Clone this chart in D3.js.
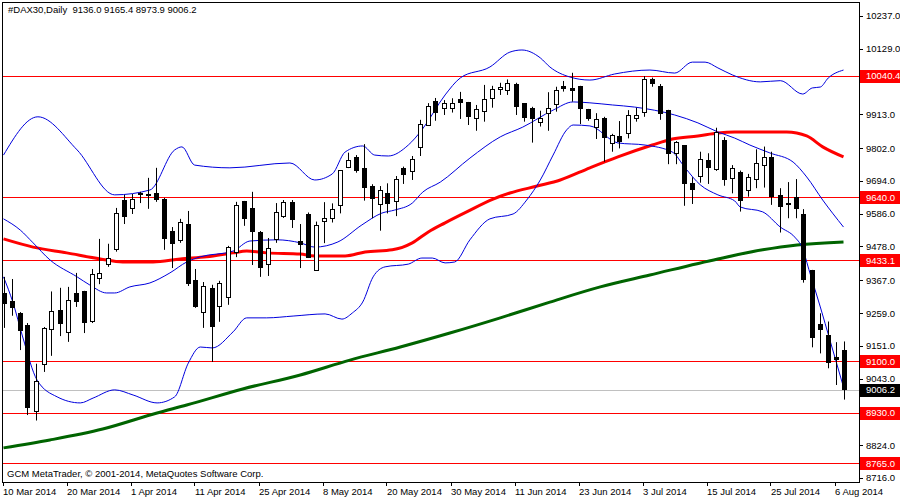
<!DOCTYPE html>
<html>
<head>
<meta charset="utf-8">
<script src="https://cdn.jsdelivr.net/npm/d3@7"></script>
<style>
  body { margin: 0; background: #fff; }
  text { font-family: "Liberation Sans", Arial, sans-serif; }
</style>
</head>
<body>
<div id="plot_area"></div>
<script>
// daily candles, 10 Mar 2014 .. 6 Aug 2014
const opens  = [9325,9300,9260,9220,8935,9092,9206,9269,9197,9325,9332,9233,9376,9420,9470,9631,9605,9655,9647,9655,
                9635,9529,9500,9552,9368,9262,9342,9282,9312,9460,9628,9605,9526,9420,9503,9579,9625,9495,9585,9401,
                9560,9571,9614,9741,9772,9737,9677,9617,9653,9626,9737,9728,9805,9879,9956,9933,9935,9964,9954,9900,
                9925,9966,9996,9991,10013,9950,9933,9889,9917,9946,10005,9999,10007,9931,9870,9900,9818,9842,9851,9900,
                9920,10030,10007,9928,9785,9812,9686,9708,9763,9733,9829,9703,9722,9664,9699,9749,9772,9648,9622,9640,
                9585,9401,9223,9187,9115,9136]
const highs  = [9378,9371,9262,9226,9092,9213,9330,9342,9345,9391,9332,9404,9503,9487,9605,9648,9651,9658,9704,9737,
                9638,9542,9569,9595,9404,9361,9352,9365,9480,9625,9628,9658,9529,9506,9621,9631,9631,9552,9590,9560,
                9624,9620,9729,9787,9779,9815,9683,9677,9686,9710,9741,9776,9895,9950,9967,9960,9966,9987,9954,9944,
                10010,10007,10017,10028,10017,9950,9938,9925,9986,10004,10023,10050,10007,9931,9917,9905,9849,9891,9927,9935,
                10039,10034,10013,9928,9825,9812,9706,9790,9785,9869,9838,9746,9728,9717,9798,9807,9790,9670,9690,9700,
                9601,9401,9258,9231,9163,9165.4]
const lows   = [9210,9250,9137,8923,8905,9065,9118,9183,9164,9279,9193,9226,9354,9411,9461,9552,9585,9621,9602,9625,
                9467,9407,9490,9348,9276,9210,9098,9230,9286,9443,9546,9417,9378,9381,9490,9572,9539,9407,9440,9401,
                9489,9557,9587,9736,9721,9629,9571,9530,9587,9578,9684,9697,9776,9875,9892,9911,9919,9898,9878,9859,
                9889,9935,9977,9977,9911,9889,9820,9873,9859,9922,9988,9955,9881,9892,9832,9757,9790,9801,9834,9889,
                9905,10004,9895,9749,9749,9612,9618,9688,9684,9727,9678,9653,9593,9642,9670,9672,9615,9524,9571,9571,
                9359,9146,9126,9077,9022,8973.9]
const closes = [9292,9280,9203,8950,9035,9210,9265,9226,9302,9298,9230,9387,9392,9440,9588,9578,9634,9655,9650,9635,
                9506,9490,9559,9358,9282,9348,9217,9358,9477,9615,9572,9529,9411,9473,9592,9625,9569,9485,9445,9548,
                9571,9601,9729,9763,9730,9673,9639,9663,9619,9699,9718,9766,9880,9941,9919,9951,9951,9955,9909,9930,
                9963,9996,10004,10015,9942,9905,9900,9902,9933,9993,9999,9991,9935,9902,9897,9836,9845,9826,9911,9911,
                10029,10016,9917,9785,9821,9686,9667,9765,9739,9856,9699,9736,9631,9708,9752,9774,9645,9612,9620,9604,
                9370,9181,9208,9099,9107,9006.2]

const dateLabels = ['10 Mar 2014','20 Mar 2014','1 Apr 2014','11 Apr 2014','25 Apr 2014','8 May 2014','20 May 2014',
                    '30 May 2014','11 Jun 2014','23 Jun 2014','3 Jul 2014','15 Jul 2014','25 Jul 2014','6 Aug 2014']
const priceTicks = [10237,10129,10021,9913,9802,9694,9586,9478,9367,9259,9151,9043,8824,8716]
const levels = [10040.4, 9640.0, 9433.1, 9100.0, 8930.0, 8765.0]
const lastPrice = 9006.2

// indicator lines: [bar index, price]
const bbUpper = [[0,9779],[4.3,9905],[9.2,9796],[13.9,9648],[18.3,9664],[21.4,9796],[22.3,9806],[23.9,9746],[28.3,9737],
  [35.8,9753],[38.9,9697],[41.1,9717],[42.7,9789],[44.9,9809],[46.4,9779],[48.1,9776],[50.6,9812],[52.3,9862],[55.2,9977],
  [57.1,10033],[60.8,10069],[63.3,10118],[64.8,10125],[67.1,10099],[68.3,10069],[70.8,10036],[73.3,10026],[76.4,10046],
  [80.8,10059],[83.9,10049],[86.1,10085],[87.7,10085],[89.3,10066],[91.1,10043],[94.6,10020],[97.1,10024],[99.9,9980],
  [101.1,10000],[102.1,10003],[103.1,10033],[105,10059]]
const bbMiddle = [[0,9569],[2.1,9532],[3.7,9490],[5.8,9434],[9.2,9378],[10.8,9351],[12.9,9325],[13.9,9325],[15.8,9345],
  [18.3,9358],[20.8,9391],[22.9,9427],[24.6,9444],[28.7,9463],[30.8,9496],[34.2,9500],[37.1,9490],[38.9,9476],[41.8,9493],
  [44.8,9549],[47.3,9588],[48.9,9598],[51.1,9621],[52.4,9657],[54.6,9690],[58.3,9769],[62.1,9839],[64.9,9871],[68.7,9927],
  [71.2,9954],[73.3,9951],[76.1,9944],[78.9,9937],[83.9,9911],[86.8,9885],[89.3,9855],[91.4,9835],[93.3,9812],[95.8,9786],
  [98.7,9756],[100.4,9707],[102.4,9631],[105,9542]]
const bbLower = [[0,9378],[1.2,9292],[2.4,9180],[4.2,9038],[6.7,8983],[9.6,8963],[11.2,8979],[13.9,9006],[16.2,8989],
  [19.2,8963],[21.4,8983],[23.1,9094],[24.6,9147],[26.1,9144],[28.7,9197],[30.4,9243],[32.9,9243],[36.2,9249],[40.2,9256],
  [42.3,9239],[43.6,9259],[44.9,9295],[46.2,9378],[47.7,9411],[50.6,9420],[52.3,9440],[53.6,9440],[55.2,9424],[56.4,9427],
  [58.3,9500],[60.8,9569],[63.7,9585],[65.4,9631],[67.1,9697],[68.7,9779],[70.4,9862],[71.2,9878],[73.3,9875],[76.8,9819],
  [80.2,9812],[83.6,9789],[85.2,9737],[87.1,9681],[89.3,9648],[91.4,9628],[92.1,9608],[94.9,9592],[97.1,9542],[98.9,9509],
  [99.8,9476],[100.8,9391],[102.1,9279],[103.3,9170],[105,9015]]
const maRed = [[0,9503],[3.7,9476],[7.9,9457],[12.1,9437],[14.9,9427],[18.7,9427],[22.1,9437],[25.4,9444],[28.7,9457],
  [30.4,9463],[32.9,9457],[37.1,9453],[38.9,9447],[42.7,9447],[45.2,9460],[48.6,9467],[51.1,9490],[53.1,9526],[55.2,9556],
  [57.9,9592],[61.2,9634],[63.3,9654],[66.7,9677],[69.6,9697],[73.3,9737],[76.8,9773],[81.1,9812],[83.6,9832],[86.8,9842],
  [89.3,9852],[91.4,9855],[97.9,9855],[100.4,9842],[102.4,9806],[105,9773]]
const maGreen = [[0,8815],[5.8,8841],[12.4,8877],[19.2,8930],[22.9,8956],[29.9,9009],[37.1,9055],[43.3,9104],[49.6,9147],
  [55.8,9193],[62.1,9243],[68.3,9295],[74.6,9345],[80.8,9384],[89.3,9437],[94.9,9467],[99.2,9483],[105,9493]]

const svgWidth = 900, svgHeight = 500
const plotLeft = 2, plotTop = 2, plotRight = 859, plotBottom = 482

const svg = d3.select('#plot_area').append('svg')
    .attr('width', svgWidth)
    .attr('height', svgHeight)

const x = d3.scaleLinear().domain([0, 105]).range([3.5, 843.5])
const y = d3.scaleLinear().domain([8702.6, 10283]).range([plotBottom, plotTop])

const plot = svg.append('g')

// horizontal levels
plot.append('line')
    .attr('x1', plotLeft).attr('x2', plotRight)
    .attr('y1', Math.round(y(lastPrice)) + 0.5).attr('y2', Math.round(y(lastPrice)) + 0.5)
    .attr('stroke', '#c0c0c0')
plot.selectAll('line.level').data(levels).enter().append('line')
    .attr('x1', plotLeft).attr('x2', plotRight)
    .attr('y1', d => Math.round(y(d)) + 0.5).attr('y2', d => Math.round(y(d)) + 0.5)
    .attr('stroke', '#ff0000')

const line = d3.line().x(d => x(d[0])).y(d => y(d[1])).curve(d3.curveMonotoneX)

plot.append('path').datum(maGreen).attr('d', line)
    .attr('fill', 'none').attr('stroke', '#006400').attr('stroke-width', 3)
plot.append('path').datum(maRed).attr('d', line)
    .attr('fill', 'none').attr('stroke', '#ff0000').attr('stroke-width', 3)
;[bbUpper, bbMiddle, bbLower].forEach(band => {
    plot.append('path').datum(band).attr('d', line)
        .attr('fill', 'none').attr('stroke', '#0000dd').attr('stroke-width', 1)
})

// candles
const candles = plot.append('g').selectAll('g').data(opens.map((o, i) => ({
    i: i, o: o, h: highs[i], l: lows[i], c: closes[i]
}))).enter().append('g')

candles.append('line')
    .attr('x1', d => Math.round(x(d.i)) + 0.5).attr('x2', d => Math.round(x(d.i)) + 0.5)
    .attr('y1', d => y(d.h)).attr('y2', d => y(d.l))
    .attr('stroke', '#000')

candles.append('rect')
    .attr('x', d => Math.round(x(d.i)) - 2 + 0.5)
    .attr('y', d => Math.round(y(Math.max(d.o, d.c))) + 0.5)
    .attr('width', 4)
    .attr('height', d => Math.max(1, Math.round(Math.abs(y(d.o) - y(d.c)))))
    .attr('fill', d => d.c >= d.o ? '#fff' : '#000')
    .attr('stroke', '#000')

// frame
svg.append('rect')
    .attr('x', plotLeft + 0.5).attr('y', plotTop + 0.5)
    .attr('width', plotRight - plotLeft).attr('height', plotBottom - plotTop)
    .attr('fill', 'none').attr('stroke', '#000')

// right price axis (ticks hidden behind a level tag are skipped)
const shownTicks = priceTicks.filter(t => !levels.some(v => Math.abs(y(v) - y(t)) < 9))
const yTicks = svg.append('g')
yTicks.selectAll('line').data(priceTicks).enter().append('line')
    .attr('x1', plotRight).attr('x2', plotRight + 4)
    .attr('y1', d => Math.round(y(d)) + 0.5).attr('y2', d => Math.round(y(d)) + 0.5)
    .attr('stroke', '#000')
yTicks.selectAll('text').data(shownTicks).enter().append('text')
    .attr('x', 866).attr('y', d => y(d) + 3.5)
    .attr('font-size', 9.5)
    .text(d => d.toFixed(1))

const tags = svg.append('g').selectAll('g')
    .data(levels.map(v => ({ v: v, fill: '#ff0000' })).concat([{ v: lastPrice, fill: '#000' }]))
    .enter().append('g')
tags.append('rect')
    .attr('x', plotRight + 1).attr('y', d => Math.round(y(d.v)) - 6)
    .attr('width', 41).attr('height', 13)
    .attr('fill', d => d.fill)
tags.append('text')
    .attr('x', 866).attr('y', d => y(d.v) + 3.5)
    .attr('font-size', 9.5).attr('fill', '#fff')
    .text(d => d.v.toFixed(1))

// bottom date axis
const xTicks = svg.append('g')
xTicks.selectAll('line').data(dateLabels).enter().append('line')
    .attr('x1', (d, k) => Math.round(x(k * 8)) - 0.5).attr('x2', (d, k) => Math.round(x(k * 8)) - 0.5)
    .attr('y1', plotBottom).attr('y2', plotBottom + 4)
    .attr('stroke', '#000')
xTicks.selectAll('text').data(dateLabels).enter().append('text')
    .attr('x', (d, k) => x(k * 8) - 0.5).attr('y', 495)
    .attr('font-size', 9.5)
    .text(d => d)

svg.append('text').attr('x', 8).attr('y', 13).attr('font-size', 9.5)
    .text('#DAX30,Daily\u00a0\u00a09136.0 9165.4 8973.9 9006.2')
svg.append('text').attr('x', 7).attr('y', 477).attr('font-size', 9.5)
    .text('GCM MetaTrader, \u00a9 2001-2014, MetaQuotes Software Corp.')
</script>
</body>
</html>
